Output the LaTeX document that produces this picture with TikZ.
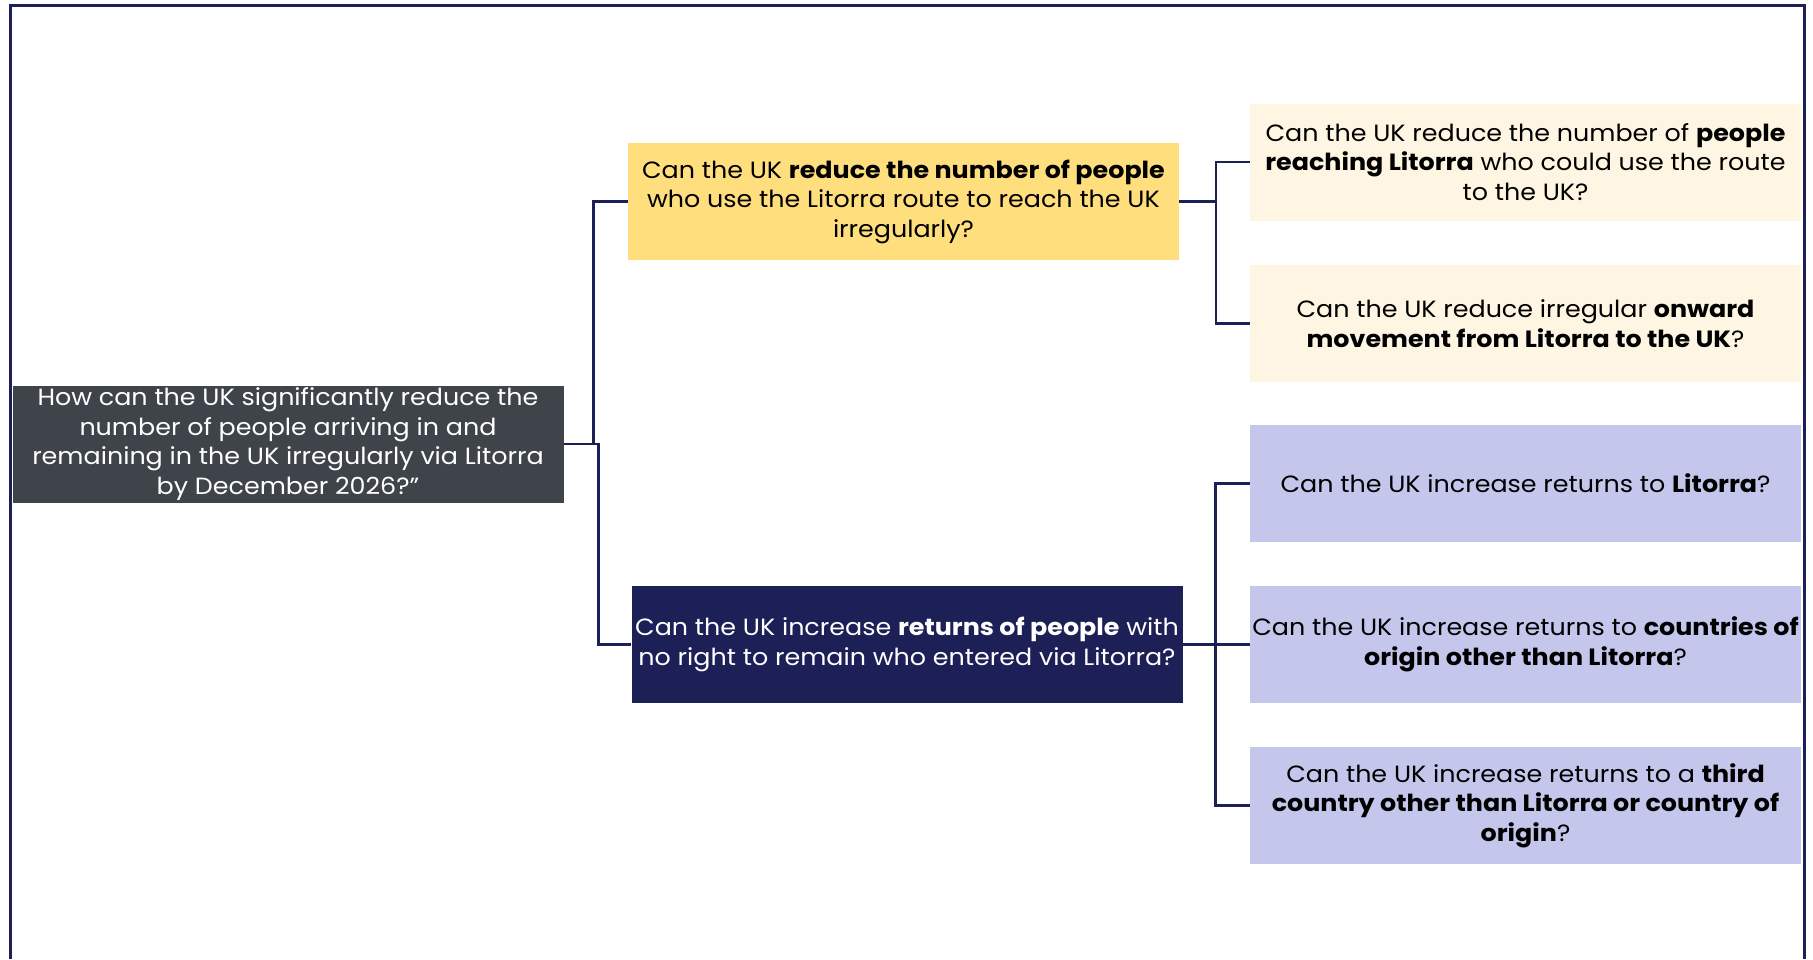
\documentclass[tikz,border=0pt]{standalone}
\usepackage{fontspec}
\setmainfont{Poppins}[FakeStretch=1.08]
\definecolor{rootfill}{HTML}{3E444A}
\definecolor{yellowfill}{HTML}{FFDE7E}
\definecolor{navy}{HTML}{1D1F57}
\definecolor{creamfill}{HTML}{FEF6E2}
\definecolor{lavfill}{HTML}{C4C6EC}
\tikzset{
  qbox/.style={rectangle, inner sep=0pt, minimum width=551pt, minimum height=117pt, align=center,
    font=\fontsize{23.5}{29.5}\selectfont},
  rootbox/.style={qbox, fill=rootfill, text=white},
  yellowbox/.style={qbox, fill=yellowfill, text=black},
  navybox/.style={qbox, fill=navy, text=white},
  creambox/.style={qbox, fill=creamfill, text=black},
  lavbox/.style={qbox, fill=lavfill, text=black},
  conn/.style={draw=navy, line width=2.5pt},
  frame/.style={draw=navy, line width=3pt}
}
\begin{document}
\begin{tikzpicture}[x=1pt,y=-1pt]
\useasboundingbox (0,0) rectangle (1813,959);
\draw[frame] (10,959) -- (10,5) -- (1804,5) -- (1804,959);

\node[rootbox] (root) at (288,444) {How can the UK significantly reduce the\\number of people arriving in and\\remaining in the UK irregularly via Litorra\\by December 2026?''};

\node[yellowbox] (l1a) at (903.5,201.5) {Can the UK \textbf{reduce the number of people}\\who use the Litorra route to reach the UK\\irregularly?};
\node[navybox] (l1b) at (907,644.5) {Can the UK increase \textbf{returns of people} with\\no right to remain who entered via Litorra?};

\node[creambox] (a1) at (1525.5,162) {Can the UK reduce the number of \textbf{people}\\\textbf{reaching Litorra} who could use the route\\to the UK?};
\node[creambox] (a2) at (1525.5,323.5) {Can the UK reduce irregular \textbf{onward}\\\textbf{movement from Litorra to the UK}?};

\node[lavbox] (b1) at (1525.5,483.5) {Can the UK increase returns to \textbf{Litorra}?};
\node[lavbox] (b2) at (1525.5,644.5) {Can the UK increase returns to \textbf{countries of}\\\textbf{origin other than Litorra}?};
\node[lavbox] (b3) at (1525.5,805.5) {Can the UK increase returns to a \textbf{third}\\\textbf{country other than Litorra or country of}\\\textbf{origin}?};

\draw[conn] (root.east) -- ++(30,0) |- (l1a.west);
\draw[conn] (root.east) -- ++(35,0) |- (l1b.west);
\draw[conn] (l1a.east) -- ++(37,0) |- (a1.west);
\draw[conn] (l1a.east) -- ++(37,0) |- (a2.west);
\draw[conn] (l1b.east) -- ++(33,0) |- (b1.west);
\draw[conn] (l1b.east) -- ++(33,0) |- (b2.west);
\draw[conn] (l1b.east) -- ++(33,0) |- (b3.west);
\end{tikzpicture}
\end{document}
